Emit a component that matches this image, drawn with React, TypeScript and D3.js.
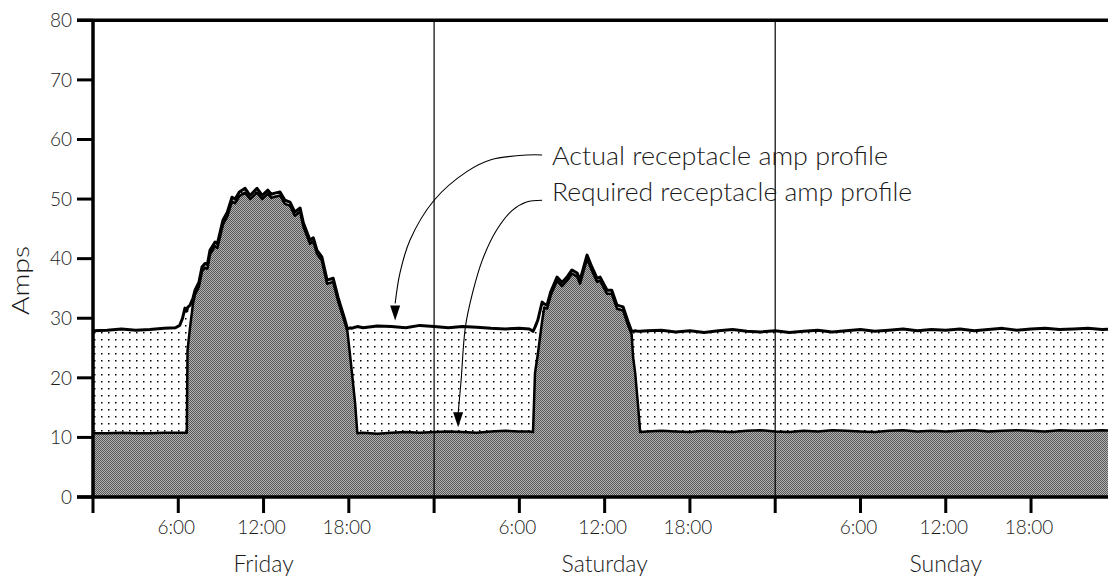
import * as d3 from 'd3';

// hours since Friday 0:00, amps
const hours = [
	0, 1, 2, 3, 4, 5, 5.8, 6.1, 6.3,
	6.47, 6.6, 6.65, 6.83, 7.04, 7.18, 7.45, 7.67, 7.88, 8.05, 8.23, 8.59, 8.75, 9.15, 9.45, 9.78,
	10.0, 10.3, 10.7, 11.05, 11.54, 11.9, 12.3, 12.55, 12.8, 13.16, 13.5, 13.86, 14.2, 14.57, 14.8,
	15.27, 15.5, 15.76, 16.1, 16.47, 16.9, 17.24, 17.73, 17.9, 18.1, 18.2, 18.44, 18.6,
	19, 20, 21, 22, 23, 24, 25, 26, 27, 28, 29, 30, 30.7,
	30.96, 31.1, 31.3, 31.6, 31.75, 31.95, 32.2, 32.65, 33.0, 33.35, 33.7, 34.06, 34.27, 34.76,
	35.1, 35.47, 35.68, 36.17, 36.5, 36.87, 37.3, 37.65, 37.9, 38.0, 38.15, 38.36, 38.5,
	39, 40, 41, 42, 43, 44, 45, 46, 47, 48, 49, 50, 51, 52, 53, 54, 55, 56, 57, 58, 59, 60,
	61, 62, 63, 64, 65, 66, 67, 68, 69, 70, 71, 72,
];

const actualAmps = [
	27.9, 28.0, 28.2, 28.0, 28.1, 28.3, 28.4, 28.8, 30.0,
	31.7, 31.2, 31.8, 32.2, 33.4, 34.7, 36.0, 38.6, 39.2, 39.0, 41.4, 42.8, 42.5, 46.5, 47.8, 50.3,
	50.0, 51.2, 51.8, 50.6, 51.8, 50.6, 51.5, 50.8, 51.0, 51.2, 49.8, 49.5, 47.8, 48.5, 46.0,
	43.1, 43.5, 41.4, 40.3, 36.4, 36.7, 33.5, 29.7, 28.2, 28.4, 28.3, 28.5, 28.6,
	28.4, 28.7, 28.6, 28.4, 28.8, 28.6, 28.4, 28.6, 28.5, 28.3, 28.2, 28.3, 28.2,
	27.8, 28.5, 29.7, 32.7, 32.4, 32.2, 34.4, 36.9, 36.0, 36.9, 38.1, 37.6, 36.4, 40.6,
	38.6, 36.7, 36.9, 34.7, 34.7, 32.2, 31.9, 29.4, 27.8, 27.8, 27.9, 27.8, 27.8,
	27.9, 28.0, 27.7, 27.9, 27.6, 27.9, 28.1, 27.8, 27.7, 27.9, 27.6, 27.8, 28.0, 27.7, 27.9, 28.1, 27.8, 28.0, 28.2, 27.9, 28.1, 28.0,
	28.2, 27.9, 28.1, 28.3, 28.0, 28.2, 28.3, 28.1, 28.2, 28.3, 28.1, 28.2,
];

const requiredAmps = [
	10.7, 10.7, 10.8, 10.7, 10.7, 10.8, 10.8, 10.8, 10.8,
	10.8, 10.8, 24.6, 28.5, 32.5, 34.0, 35.3, 37.9, 38.5, 38.3, 40.7, 42.1, 41.8, 45.8, 47.1, 49.6,
	49.3, 50.5, 51.1, 50.0, 51.1, 50.0, 50.9, 50.2, 50.4, 50.6, 49.2, 48.9, 47.2, 47.9, 45.4,
	42.5, 42.9, 40.8, 39.7, 35.8, 36.1, 32.9, 29.2, 27.8, 23.5, 21.3, 15.8, 10.7,
	10.8, 10.6, 10.8, 10.9, 10.8, 10.9, 11.0, 10.9, 10.8, 11.0, 11.1, 11.0, 11.0,
	10.9, 20.8, 24.0, 29.5, 31.8, 31.6, 33.8, 36.3, 35.4, 36.3, 37.5, 37.0, 35.8, 40.0,
	38.0, 36.1, 36.3, 34.1, 34.1, 31.6, 31.3, 28.8, 27.3, 23.5, 20.8, 15.1, 10.9,
	11.0, 11.1, 11.0, 10.9, 11.1, 11.0, 10.9, 11.1, 11.2, 11.0, 10.9, 11.1, 11.0, 11.2, 11.1, 11.0, 10.9, 11.1, 11.2, 11.0, 11.1, 11.0,
	11.1, 11.2, 11.0, 11.1, 11.2, 11.1, 11.0, 11.2, 11.1, 11.1, 11.2, 11.1,
];

const ampTicks = [0, 10, 20, 30, 40, 50, 60, 70, 80];
const hourTicks = [0, 6, 12, 18, 24, 30, 36, 42, 48, 54, 60, 66, 72];
const hourLabels = ['', '6:00', '12:00', '18:00'];
const days = ['Friday', 'Saturday', 'Sunday'];

// annotation leaders, in [hour, amps]
const actualLeader = [[31.6, 57.4], [30.6, 57.4], [28.0, 56.6], [26.3, 54.6], [24.0, 49.8], [22.3, 43.1], [21.6, 37.6], [21.26, 32.5]];
const requiredLeader = [[31.6, 49.8], [30.5, 49.5], [29.5, 48.1], [28.4, 44.8], [27.4, 39.8], [26.7, 34.2], [26.2, 28.5], [25.9, 19.6], [25.69, 14.0]];
const annotations = [
	{ text: 'Actual receptacle amp profile', at: [32.3, 55.7], tip: [21.26, 29.6], leader: actualLeader, len: 336 },
	{ text: 'Required receptacle amp profile', at: [32.3, 49.6], tip: [25.69, 11.7], leader: requiredLeader, len: 360 },
];

const W = 1108;
const H = 579;
const FONT = 'Lato, "DejaVu Sans", sans-serif';
const INK = '#1a1a1a';

export default function App() {
	const x = d3.scaleLinear().domain([0, 72]).range([93, 1116.3]);
	const y = d3.scaleLinear().domain([0, 80]).range([497, 20.3]);

	const idx = d3.range(hours.length);
	const areaActual = d3.area<number>().x(i => x(hours[i])).y0(y(0)).y1(i => y(actualAmps[i]))(idx);
	const areaRequired = d3.area<number>().x(i => x(hours[i])).y0(y(0)).y1(i => y(requiredAmps[i]))(idx);
	const lineActual = d3.line<number>().x(i => x(hours[i])).y(i => y(actualAmps[i]))(idx);
	const lineRequired = d3.line<number>().x(i => x(hours[i])).y(i => y(requiredAmps[i]))(idx);
	const leaderLine = d3.line<number[]>().x(d => x(d[0])).y(d => y(d[1])).curve(d3.curveCatmullRom);

	const left = x(0);
	const bottom = y(0);

	return (
		<svg width={W} height={H} style={{ position: 'absolute', left: 0, top: 0, background: '#fff' }}>
			<defs>
				<pattern id="gray" width={2} height={2} patternUnits="userSpaceOnUse">
					<rect width={2} height={2} fill="#b4b4b4" />
					<rect x={0} y={0} width={1} height={1} fill="#555" shapeRendering="crispEdges" />
					<rect x={1} y={1} width={1} height={1} fill="#555" shapeRendering="crispEdges" />
				</pattern>
				<pattern id="dots" width={7} height={7} patternUnits="userSpaceOnUse">
					<rect width={7} height={7} fill="#fff" />
					<rect x={3} y={3} width={1.5} height={1.5} fill="#000" />
				</pattern>
				<clipPath id="plot">
					<rect x={left} y={y(80)} width={W - left} height={bottom - y(80)} />
				</clipPath>
			</defs>

			<g clipPath="url(#plot)">
				<path d={areaActual} fill="url(#dots)" />
				<path d={areaRequired} fill="url(#gray)" />
				<path d={lineRequired} fill="none" stroke="#000" strokeWidth={2.5} strokeLinejoin="round" />
				<path d={lineActual} fill="none" stroke="#000" strokeWidth={3} strokeLinejoin="round" />
			</g>

			{[24, 48].map(h => (
				<line key={h} x1={x(h)} x2={x(h)} y1={y(80)} y2={bottom} stroke="#000" strokeWidth={1.2} />
			))}

			{/* axes frame */}
			<line x1={77} x2={W} y1={y(80)} y2={y(80)} stroke="#000" strokeWidth={3.5} />
			<line x1={left} x2={left} y1={y(80)} y2={bottom} stroke="#000" strokeWidth={3.5} />
			<line x1={77} x2={W} y1={bottom} y2={bottom} stroke="#000" strokeWidth={3.5} />

			{ampTicks.map(t => (
				<g key={t}>
					<line x1={77} x2={left} y1={y(t)} y2={y(t)} stroke="#000" strokeWidth={3} />
					<text x={72} y={y(t)} dy="0.36em" textAnchor="end" fontFamily={FONT} fontWeight={300} fontSize={19} fill={INK}>{t}</text>
				</g>
			))}

			{hourTicks.map(h => (
				<g key={h}>
					<line x1={x(h)} x2={x(h)} y1={bottom} y2={513} stroke="#000" strokeWidth={3} />
					{hourLabels[(h / 6) % 4] && (
						<text x={x(h) - 2} y={534} textAnchor="middle" fontFamily={FONT} fontWeight={300} fontSize={19} fill={INK}>
							{hourLabels[(h / 6) % 4]}
						</text>
					)}
				</g>
			))}

			{days.map((d, i) => (
				<text key={d} x={x(12 + 24 * i)} y={572} textAnchor="middle" fontFamily={FONT} fontWeight={300} fontSize={23} fill={INK}>{d}</text>
			))}

			<text transform={`translate(29, ${(y(40) + y(30)) / 2 - 8}) rotate(-90)`} textAnchor="middle" fontFamily={FONT} fontWeight={300} fontSize={23}
				fill={INK} textLength={69} lengthAdjust="spacingAndGlyphs">Amps</text>

			{annotations.map(a => {
				const tx = x(a.tip[0]);
				const ty = y(a.tip[1]);
				return (
					<g key={a.text}>
						<path d={leaderLine(a.leader) as string} fill="none" stroke="#000" strokeWidth={1.1} />
						<path d={`M${tx},${ty} L${tx - 5},${ty - 15} L${tx + 5},${ty - 15} Z`} fill="#000" />
						<text x={x(a.at[0])} y={y(a.at[1])} fontFamily={FONT} fontWeight={300} fontSize={26} fill={INK}
							textLength={a.len} lengthAdjust="spacingAndGlyphs">{a.text}</text>
					</g>
				);
			})}
		</svg>
	);
}
